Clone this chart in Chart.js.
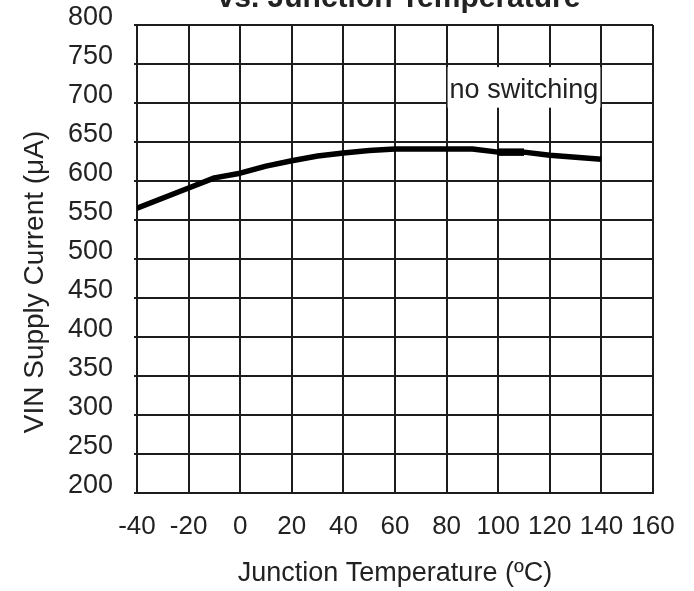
<!DOCTYPE html>
<html>
<head>
<meta charset="utf-8">
<script src="https://cdn.jsdelivr.net/npm/chart.js@4/dist/chart.umd.min.js"></script>
<style>
  html, body { margin: 0; padding: 0; background: #fff; }
  #wrap { width: 694px; height: 591px; }
</style>
</head>
<body>
<div id="wrap"><canvas id="supply-chart"></canvas></div>
<script>
const temps = [-40, -20, -10, 0, 10, 20, 30, 40, 50, 60, 80, 90, 100, 110, 120, 140]
const supplyCurrent = [565, 591, 604, 610, 619, 626, 632, 636, 639, 641, 641, 641, 637, 637, 633, 628]
// short heavier stroke between 100 and 110 degC
const heavyTemps = [100, 110]
const heavyCurrent = [637, 637]
const xTicks = [-40, -20, 0, 20, 40, 60, 80, 100, 120, 140, 160]
const yTicks = [200, 250, 300, 350, 400, 450, 500, 550, 600, 650, 700, 750, 800]

const FONT = '"Liberation Sans", Arial, sans-serif'
const INK = '#222'
const GRID = '#1c1c1c'

Chart.defaults.font.family = FONT
Chart.defaults.color = INK

const extras = {
  id: 'extras',
  beforeDatasetsDraw(chart) {
    const { ctx, scales: { x, y } } = chart
    // white panel behind the note, sitting between the 80 and 140 grid lines
    const left = x.getPixelForValue(80) + 1
    const right = x.getPixelForValue(140) - 1
    const top = y.getPixelForValue(746)
    const bottom = y.getPixelForValue(694)
    ctx.save()
    ctx.fillStyle = '#fff'
    ctx.fillRect(left, top, right - left, bottom - top)
    ctx.fillStyle = INK
    ctx.font = '27px ' + FONT
    ctx.textAlign = 'left'
    ctx.textBaseline = 'alphabetic'
    ctx.fillText('no switching', left + 2, y.getPixelForValue(706))
    ctx.restore()
  },
  afterDraw(chart) {
    const { ctx } = chart
    ctx.save()
    ctx.fillStyle = INK
    ctx.textAlign = 'center'
    ctx.textBaseline = 'alphabetic'
    // chart heading, runs off the top edge
    ctx.font = 'bold 30px ' + FONT
    ctx.fillText('vs. Junction Temperature', 399, 7)
    // y axis title
    ctx.font = '28px ' + FONT
    ctx.translate(43, 282)
    ctx.rotate(-Math.PI / 2)
    ctx.fillText('VIN Supply Current (\u03bcA)', 0, 0)
    ctx.restore()
  }
}

new Chart(document.getElementById('supply-chart'), {
  type: 'line',
  data: {
    datasets: [
      {
        data: temps.map((t, i) => ({ x: t, y: supplyCurrent[i] })),
        borderColor: '#000',
        borderWidth: 5.5,
        borderJoinStyle: 'round',
        pointRadius: 0,
        tension: 0,
        fill: false
      },
      {
        data: heavyTemps.map((t, i) => ({ x: t, y: heavyCurrent[i] })),
        borderColor: '#000',
        borderWidth: 7.5,
        pointRadius: 0,
        tension: 0,
        fill: false
      }
    ]
  },
  options: {
    responsive: true,
    maintainAspectRatio: false,
    animation: false,
    layout: { padding: { top: 25, right: 41, left: 0, bottom: 0 } },
    plugins: {
      legend: { display: false },
      tooltip: { enabled: false }
    },
    scales: {
      x: {
        type: 'linear',
        min: xTicks[0],
        max: xTicks[xTicks.length - 1],
        afterBuildTicks: s => { s.ticks = xTicks.map(v => ({ value: v })) },
        afterFit: s => { s.height = 98 },
        grid: { color: GRID, lineWidth: 2, drawTicks: false },
        border: { color: GRID, width: 2 },
        ticks: { font: { size: 26 }, color: INK, padding: 18, maxRotation: 0, autoSkip: false },
        title: {
          display: true,
          text: 'Junction Temperature (\u00baC)',
          font: { size: 27 },
          color: INK,
          padding: { top: 0, bottom: 1 }
        }
      },
      y: {
        min: yTicks[0],
        max: yTicks[yTicks.length - 1],
        afterBuildTicks: s => { s.ticks = yTicks.map(v => ({ value: v })) },
        afterFit: s => {
          s.width = 137
          s.paddingTop = 0
          s.paddingBottom = 0
        },
        grid: { color: GRID, lineWidth: 2, tickLength: 3 },
        border: { color: GRID, width: 2 },
        ticks: { font: { size: 27 }, color: INK, padding: 21, labelOffset: -7, autoSkip: false }
      }
    }
  },
  plugins: [extras]
})
</script>
</body>
</html>
